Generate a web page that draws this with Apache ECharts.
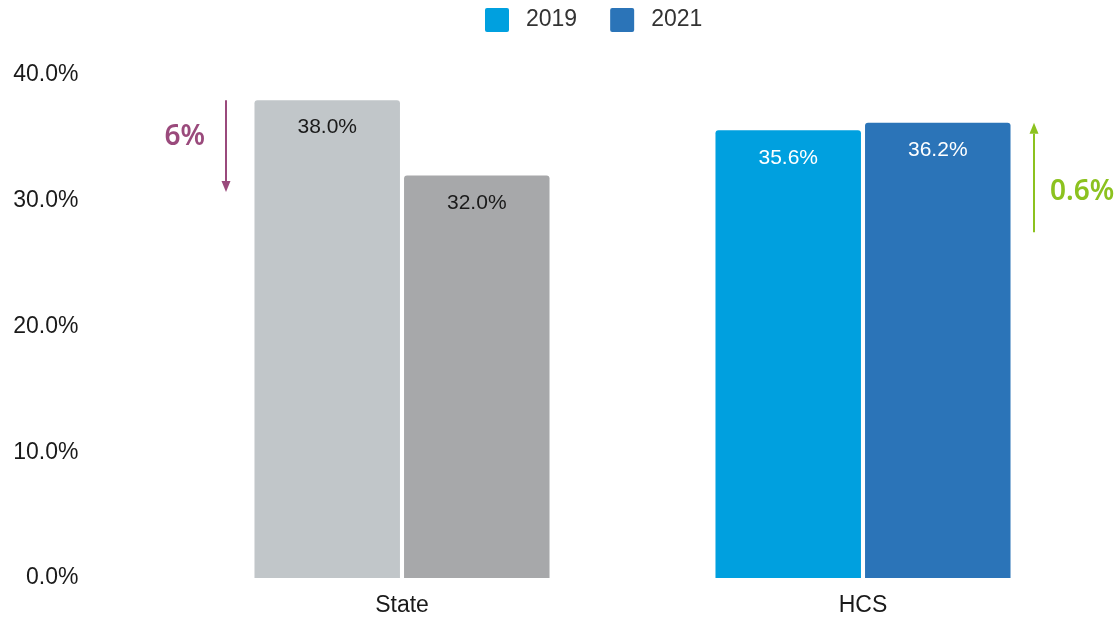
<!DOCTYPE html>
<html>
<head>
<meta charset="utf-8">
<script src="https://cdn.jsdelivr.net/npm/echarts@6/dist/echarts.min.js"></script>
<style>
  html, body { margin: 0; padding: 0; background: #fff; }
  #chart { width: 1118px; height: 618px; }
</style>
</head>
<body>
<div id="chart"></div>
<script>
// Share of respondents by group, two survey years
const categories = ['State', 'HCS'];
const years = ['2019', '2021'];
const values2019 = [38.0, 35.6];
const values2021 = [32.0, 36.2];
const yTicks = [0, 10, 20, 30, 40];

// Change callouts: [category index, from value, to value, text]
const changeNotes = [
  { cat: 0, from: 38.0, to: 30.7, text: '6%' },
  { cat: 1, from: 27.5, to: 36.2, text: '0.6%' }
];

const FONT = '"Liberation Sans", Arial, sans-serif';
const legendColors = ['#00a0df', '#2b74b8'];
const stateColors = ['#c1c6c9', '#a7a8aa'];

function barData(vals, yearIdx) {
  return vals.map((v, i) => ({
    value: v,
    itemStyle: { color: i === 0 ? stateColors[yearIdx] : legendColors[yearIdx] },
    label: { color: i === 0 ? '#1a1a1a' : '#ffffff' }
  }));
}

const chart = echarts.init(document.getElementById('chart'));

const labelCfg = {
  show: true,
  position: 'insideTop',
  distance: 17,
  fontFamily: FONT,
  fontSize: 21,
  formatter: p => p.value.toFixed(1) + '%'
};

chart.setOption({
  animation: false,
  legend: {
    top: 3,
    left: 480,
    itemWidth: 24,
    itemHeight: 24,
    itemGap: 33,
    icon: 'path://M2,0 L22,0 Q24,0 24,2 L24,22 Q24,24 22,24 L2,24 Q0,24 0,22 L0,2 Q0,0 2,0 Z',
    textStyle: { fontFamily: FONT, fontSize: 23, color: '#333', padding: [0, 0, 0, 12] },
    data: years
  },
  grid: { left: 171.5, right: 24.5, top: 75, bottom: 40 },
  xAxis: {
    type: 'category',
    data: categories,
    axisLine: { show: false },
    axisTick: { show: false },
    axisLabel: { fontFamily: FONT, fontSize: 23, color: '#1a1a1a', margin: 16 }
  },
  yAxis: {
    type: 'value',
    min: yTicks[0],
    max: yTicks[yTicks.length - 1],
    interval: yTicks[1] - yTicks[0],
    splitLine: { show: false },
    axisLine: { show: false },
    axisTick: { show: false },
    axisLabel: {
      fontFamily: FONT, fontSize: 23, color: '#1a1a1a', margin: 93,
      padding: [3, 0, 0, 0],
      formatter: v => v.toFixed(1) + '%'
    }
  },
  series: [
    {
      name: years[0], type: 'bar', color: legendColors[0],
      barGap: '2.8%', barCategoryGap: '36%',
      itemStyle: { borderRadius: [3, 3, 0, 0] },
      label: labelCfg,
      data: barData(values2019, 0)
    },
    {
      name: years[1], type: 'bar', color: legendColors[1],
      itemStyle: { borderRadius: [3, 3, 0, 0] },
      label: labelCfg,
      data: barData(values2021, 1)
    }
  ]
});

// Change arrows placed beside each category's bars
const noteStyles = [
  { color: '#9a4a7c', dx: -176, textDx: -21, align: 'right' },
  { color: '#8cc21f', dx: 171, textDx: 16, align: 'left' }
];
const elements = [];
changeNotes.forEach((n, i) => {
  const s = noteStyles[i];
  const p0 = chart.convertToPixel({ gridIndex: 0 }, [n.cat, n.from]);
  const p1 = chart.convertToPixel({ gridIndex: 0 }, [n.cat, n.to]);
  const x = p0[0] + s.dx;
  const y0 = p0[1], y1 = p1[1];
  const dir = y1 > y0 ? 1 : -1;
  const head = 11;
  elements.push({
    type: 'line',
    shape: { x1: x, y1: y0, x2: x, y2: y1 - dir * head },
    style: { stroke: s.color, lineWidth: 2 }
  });
  elements.push({
    type: 'polygon',
    shape: { points: [[x - 4.5, y1 - dir * head], [x + 4.5, y1 - dir * head], [x, y1]] },
    style: { fill: s.color }
  });
  const textY = i === 0 ? y0 + 37 : (y0 + y1) / 2 + 15;
  elements.push({
    type: 'text',
    x: x + s.textDx,
    y: textY,
    style: {
      text: n.text, fill: s.color, fontFamily: '"Noto Sans", sans-serif',
      fontWeight: 600, fontSize: 28, align: s.align, verticalAlign: 'middle'
    }
  });
});
chart.setOption({ graphic: { elements: elements } });
</script>
</body>
</html>
